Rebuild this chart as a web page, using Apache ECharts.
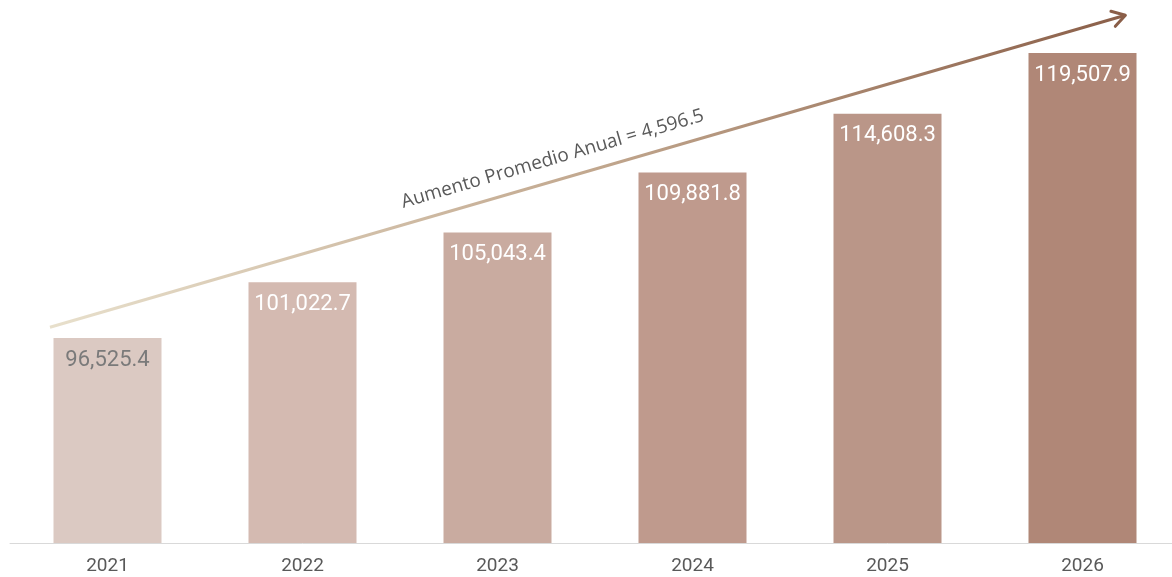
<!DOCTYPE html>
<html>
<head>
<meta charset="utf-8">
<script src="https://cdn.jsdelivr.net/npm/echarts@6/dist/echarts.min.js"></script>
<style>
  html, body { margin: 0; padding: 0; background: #ffffff; overflow: hidden; }
  #chart { width: 1182px; height: 577px; }
</style>
</head>
<body>
<div id="chart"></div>
<script>
// Years and yearly totals
const years = ['2021', '2022', '2023', '2024', '2025', '2026'];
const totals = [96525.4, 101022.7, 105043.4, 109881.8, 114608.3, 119507.9];
const barColors = ['#dbc9c2', '#d4bab1', '#c9aba0', '#bf9a8d', '#ba9688', '#b08777'];
const labelColors = ['#7a7a7a', '#ffffff', '#ffffff', '#ffffff', '#ffffff', '#ffffff'];

// Trend arrow endpoints: [position along the year band (0..6), value]
const trendStart = [0.205, 97400];
const trendEnd = [5.72, 122560];
const trendText = 'Aumento Promedio Anual = 4,596.5';

const chart = echarts.init(document.getElementById('chart'));

const fmt = v => v.toLocaleString('en-US', { minimumFractionDigits: 1, maximumFractionDigits: 1 });

chart.setOption({
  animation: false,
  grid: { left: 10, right: 2, top: 47, bottom: 34, containLabel: false },
  xAxis: [
    {
      type: 'category',
      data: years,
      axisLine: { lineStyle: { color: '#d9d9d9', width: 1 } },
      axisTick: { show: false },
      axisLabel: { color: '#595959', fontSize: 19, fontFamily: 'Roboto', margin: 14 }
    },
    { type: 'value', min: 0, max: 6, show: false }
  ],
  yAxis: {
    type: 'value', min: 80000, max: 120000,
    show: false, splitLine: { show: false }
  },
  series: [
    {
      type: 'bar',
      barWidth: 108,
      data: totals.map((v, i) => ({
        value: v,
        itemStyle: { color: barColors[i] },
        label: { color: labelColors[i] }
      })),
      label: {
        show: true,
        position: 'insideTop',
        distance: 11,
        fontSize: 22,
        fontFamily: 'Roboto',
        formatter: p => fmt(p.value)
      }
    },
    {
      type: 'line',
      xAxisIndex: 1,
      data: [trendStart, trendEnd],
      symbol: 'none',
      clip: false,
      silent: true,
      lineStyle: {
        width: 3,
        color: new echarts.graphic.LinearGradient(0, 0, 1, 0, [
          { offset: 0, color: '#e8e0cc' },
          { offset: 0.5, color: '#c2a88f' },
          { offset: 1, color: '#8a5e48' }
        ])
      }
    }
  ]
});

// Arrow head and caption placed along the trend line, using the chart's own scales
const p0 = chart.convertToPixel({ xAxisIndex: 1, yAxisIndex: 0 }, trendStart);
const p1 = chart.convertToPixel({ xAxisIndex: 1, yAxisIndex: 0 }, trendEnd);
const ang = Math.atan2(p1[1] - p0[1], p1[0] - p0[0]);
const head = 15;
const spread = 0.55;
const tip = p1;
const wingA = [tip[0] - head * Math.cos(ang - spread), tip[1] - head * Math.sin(ang - spread)];
const wingB = [tip[0] - head * Math.cos(ang + spread), tip[1] - head * Math.sin(ang + spread)];

// Caption anchor: a point on the line, lifted along the line's normal
const t = 0.473;
const gap = 12;
const anchor = [
  p0[0] + (p1[0] - p0[0]) * t + gap * Math.sin(ang),
  p0[1] + (p1[1] - p0[1]) * t - gap * Math.cos(ang)
];

chart.setOption({
  graphic: [
    {
      type: 'polyline',
      silent: true,
      shape: { points: [wingA, tip, wingB] },
      style: { stroke: '#8a5e48', lineWidth: 3, fill: null, lineCap: 'round', lineJoin: 'round' }
    },
    {
      type: 'text',
      silent: true,
      x: anchor[0],
      y: anchor[1],
      rotation: -ang,
      style: {
        text: trendText,
        fill: '#595959',
        font: '19px "Open Sans"',
        align: 'center',
        verticalAlign: 'bottom'
      }
    }
  ]
});
</script>
</body>
</html>
